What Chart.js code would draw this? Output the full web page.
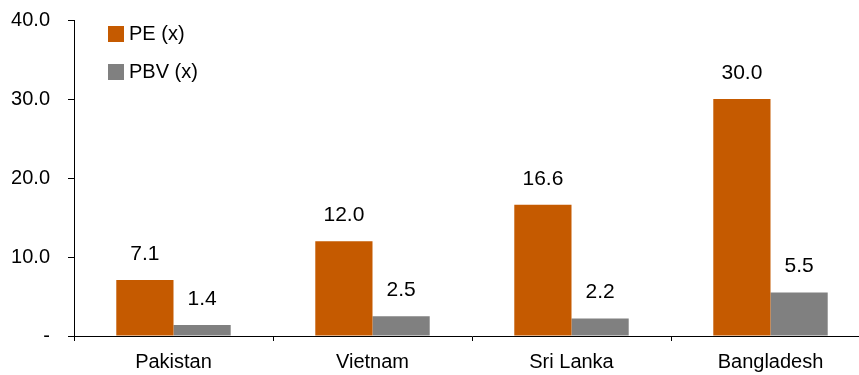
<!DOCTYPE html>
<html>
<head>
<meta charset="utf-8">
<script src="https://cdn.jsdelivr.net/npm/chart.js@4/dist/chart.umd.min.js"></script>
<style>
html,body{margin:0;padding:0;background:#fff;overflow:hidden;width:859px;height:375px;}
#wrap{width:870px;height:375px;}
</style>
</head>
<body>
<div id="wrap"><canvas id="c" width="870" height="375"></canvas></div>
<script>
const categories = ["Pakistan", "Vietnam", "Sri Lanka", "Bangladesh"];
const peValues = [7.1, 12.0, 16.6, 30.0];
const pbvValues = [1.4, 2.5, 2.2, 5.5];
const seriesNames = ["PE (x)", "PBV (x)"];
const yTicks = [0, 10, 20, 30, 40];

const FONT = "'Liberation Sans', Arial, sans-serif";
const ORANGE = "#C55A00";
const GRAY = "#808080";

const labelPlugin = {
  id: 'valueLabels',
  afterDatasetsDraw(chart) {
    const ctx = chart.ctx;
    ctx.save();
    ctx.font = "21px " + FONT;
    ctx.fillStyle = "#000";
    ctx.textAlign = "center";
    ctx.textBaseline = "middle";
    chart.data.datasets.forEach((ds, i) => {
      const meta = chart.getDatasetMeta(i);
      meta.data.forEach((bar, j) => {
        ctx.fillText(ds.data[j].toFixed(1), bar.x, bar.y - 26);
      });
    });
    ctx.restore();
  }
};

const legendPlugin = {
  id: 'customLegend',
  afterDraw(chart) {
    const ctx = chart.ctx;
    ctx.save();
    ctx.font = "20px " + FONT;
    ctx.fillStyle = "#000";
    ctx.textAlign = "left";
    ctx.textBaseline = "middle";
    const items = [
      {name: seriesNames[0], color: ORANGE, y: 26},
      {name: seriesNames[1], color: GRAY, y: 64}
    ];
    items.forEach(it => {
      ctx.fillStyle = it.color;
      ctx.fillRect(108, it.y, 16, 16);
      ctx.fillStyle = "#000";
      ctx.fillText(it.name, 129, it.y + 8);
    });
    ctx.restore();
  }
};

new Chart(document.getElementById('c'), {
  type: 'bar',
  data: {
    labels: categories,
    datasets: [
      {label: seriesNames[0], data: peValues, backgroundColor: ORANGE, borderWidth: 0,
       categoryPercentage: 0.575, barPercentage: 1.0},
      {label: seriesNames[1], data: pbvValues, backgroundColor: GRAY, borderWidth: 0,
       categoryPercentage: 0.575, barPercentage: 1.0}
    ]
  },
  options: {
    responsive: false,
    animation: false,
    devicePixelRatio: 1,
    layout: {padding: {top: 20, left: 0, right: 0, bottom: 0}},
    plugins: {legend: {display: false}, tooltip: {enabled: false}},
    scales: {
      x: {
        grid: {display: true, drawOnChartArea: false, color: "#000", tickLength: 5, offset: true},
        border: {color: "#000", width: 1},
        ticks: {color: "#000", font: {family: FONT, size: 20}, padding: 9, maxRotation: 0},
        afterFit(s) { s.height = 39; s.paddingLeft = 0; s.paddingRight = 0; }
      },
      y: {
        min: 0, max: 40,
        afterBuildTicks(s) { s.ticks = yTicks.map(v => ({value: v})); },
        grid: {display: true, drawOnChartArea: false, color: "#000", tickLength: 6},
        border: {color: "#000", width: 1},
        ticks: {color: "#000", font: {family: FONT, size: 20}, padding: 18,
          callback: v => v === 0 ? "-" : v.toFixed(1)},
        afterFit(s) { s.width = 74; s.paddingTop = 0; s.paddingBottom = 0; }
      }
    }
  },
  plugins: [labelPlugin, legendPlugin]
});
</script>
</body>
</html>
